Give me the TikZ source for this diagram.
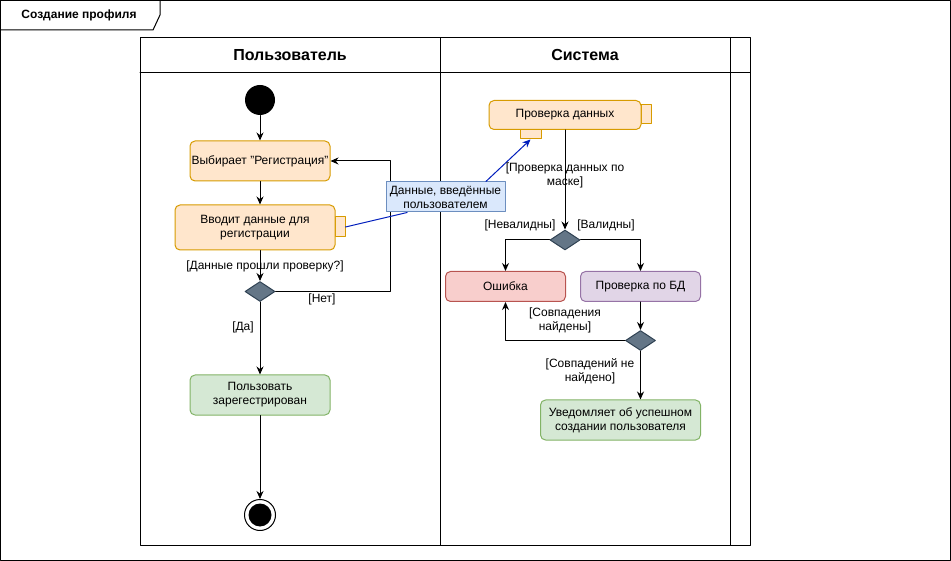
\documentclass[tikz,border=0pt]{standalone}
\usepackage{fontspec}
\setmainfont{Liberation Sans}
\usetikzlibrary{arrows.meta,shapes.geometric,positioning}
\definecolor{orfill}{HTML}{FFE6CC}
\definecolor{ordraw}{HTML}{D79B00}
\definecolor{grfill}{HTML}{D5E8D4}
\definecolor{grdraw}{HTML}{82B366}
\definecolor{rdfill}{HTML}{F8CECC}
\definecolor{rddraw}{HTML}{B85450}
\definecolor{pufill}{HTML}{E1D5E7}
\definecolor{pudraw}{HTML}{9673A6}
\definecolor{blfill}{HTML}{DAE8FC}
\definecolor{bldraw}{HTML}{6C8EBF}
\definecolor{dcfill}{HTML}{647687}
\definecolor{dcdraw}{HTML}{314354}
\definecolor{flowblue}{HTML}{001DBC}

\begin{document}
\begin{tikzpicture}[line cap=round,line join=round,x=1pt,y=-1pt,line width=1pt,>={Stealth[length=8pt,width=7pt]},
  every node/.style={font=\fontsize{12}{14}\selectfont},
  act/.style={draw,rounded corners=5pt,align=center,inner sep=0pt},
  orange/.style={act,fill=orfill,draw=ordraw},
  green/.style={act,fill=grfill,draw=grdraw},
  pin/.style={draw=ordraw,fill=orfill,inner sep=0pt},
  decision/.style={diamond,draw=dcdraw,fill=dcfill,inner sep=0pt,minimum width=30pt,minimum height=20pt},
  lane/.style={font=\fontsize{16}{19}\selectfont\bfseries}]
\useasboundingbox (0,0) rectangle (951,561);
\draw (0.5,0.5) rectangle (950.5,560.5);
\draw (0.5,0.5) -- (160,0.5) -- (160,15) -- (153,30) -- (0.5,30);
\node[font=\fontsize{12}{14}\selectfont\bfseries] (frametitle) at (79,15) {Создание профиля};

% swimlanes
\draw (140,38) rectangle (750,545);
\draw (140,73) -- (750,73);
\draw (440.5,38) -- (440.5,545);
\draw (730.5,38) -- (730.5,545);
\node[lane] (userlane) at (290,55) {Пользователь};
\node[lane] (syslane) at (585,55) {Система};

% user
\node[circle,fill=black,minimum size=30pt,inner sep=0pt] (start) at (260,100) {};
\node[orange,minimum width=140pt,minimum height=40pt] (choose) at (260,161) {Выбирает "Регистрация"};
\node[pin,minimum width=10pt,minimum height=20pt] (enterpin) at (340,227) {};
\node[orange,minimum width=160pt,minimum height=45pt] (enter) at (255,227.5) {Вводит данные для\\регистрации};
\node[decision] (valid) at (260,291.5) {};
\node[green,minimum width=140pt,minimum height=40pt] (done) at (260,395) {Пользовать\\зарегестрирован};
\node[circle,draw,minimum size=31pt,inner sep=0pt] (stop) at (260,515) {};
\fill (stop) circle (11.5pt);
\coordinate (loop) at (390.5,161);

\draw[->] (start) -- (choose);
\draw[->] (choose.south) -- (choose.south |- enter.north);
\draw[->] (valid |- enter.south) -- (valid);
\draw[->] (valid) -- (done);
\draw[->] (valid.east) -| (loop) -- (choose.east);
\draw[->] (done) -- (stop);
\draw (265,266) node {[Данные прошли проверку?]};
\draw (322,299) node {[Нет]};
\draw (243,327) node {[Да]};

% data
\node[draw=bldraw,fill=blfill,align=center,inner sep=0pt,minimum width=119pt,minimum height=30pt] (info) at (445.5,197) {Данные, введённые\\пользователем};

% system
\node[pin,minimum width=10pt,minimum height=19pt] (checkpin) at (646,114.5) {};
\node[pin,minimum width=21pt,minimum height=10pt] (inpin) at (530.5,134) {};
\node[orange,minimum width=152pt,minimum height=29pt] (check) at (565,115) {Проверка данных};
\node[decision] (mask) at (565,240) {};
\node[act,fill=rdfill,draw=rddraw,minimum width=120pt,minimum height=30pt] (error) at (505.5,286.5) {Ошибка};
\node[act,fill=pufill,draw=pudraw,minimum width=120pt,minimum height=30pt] (dbcheck) at (640.5,286.5) {Проверка по БД};
\node[decision] (match) at (640.5,340.5) {};
\node[green,minimum width=160pt,minimum height=40pt] (notify) at (620.5,420) {Уведомляет об успешном\\создании пользователя};

\draw[flowblue] (enterpin.east) -- (info.202);
\draw[->,flowblue] (info.21) -- (inpin.south);
\draw[->] (check.south -| mask) -- (mask);
\draw[->] (mask.west) -| (error.north);
\draw[->] (mask.east) -| (dbcheck.north);
\draw[->] (dbcheck) -- (match);
\draw[->] (match.west) -| (error.south);
\draw[->] (match.south) -- (match.south |- notify.north);
\draw (565,175) node[align=center] {[Проверка данных по\\маске]};
\draw (520,225) node {[Невалидны]};
\draw (606,225) node {[Валидны]};
\draw (565,320) node[align=center] {[Совпадения\\найдены]};
\draw (590,371) node[align=center] {[Совпадений не\\найдено]};
\end{tikzpicture}
\end{document}
